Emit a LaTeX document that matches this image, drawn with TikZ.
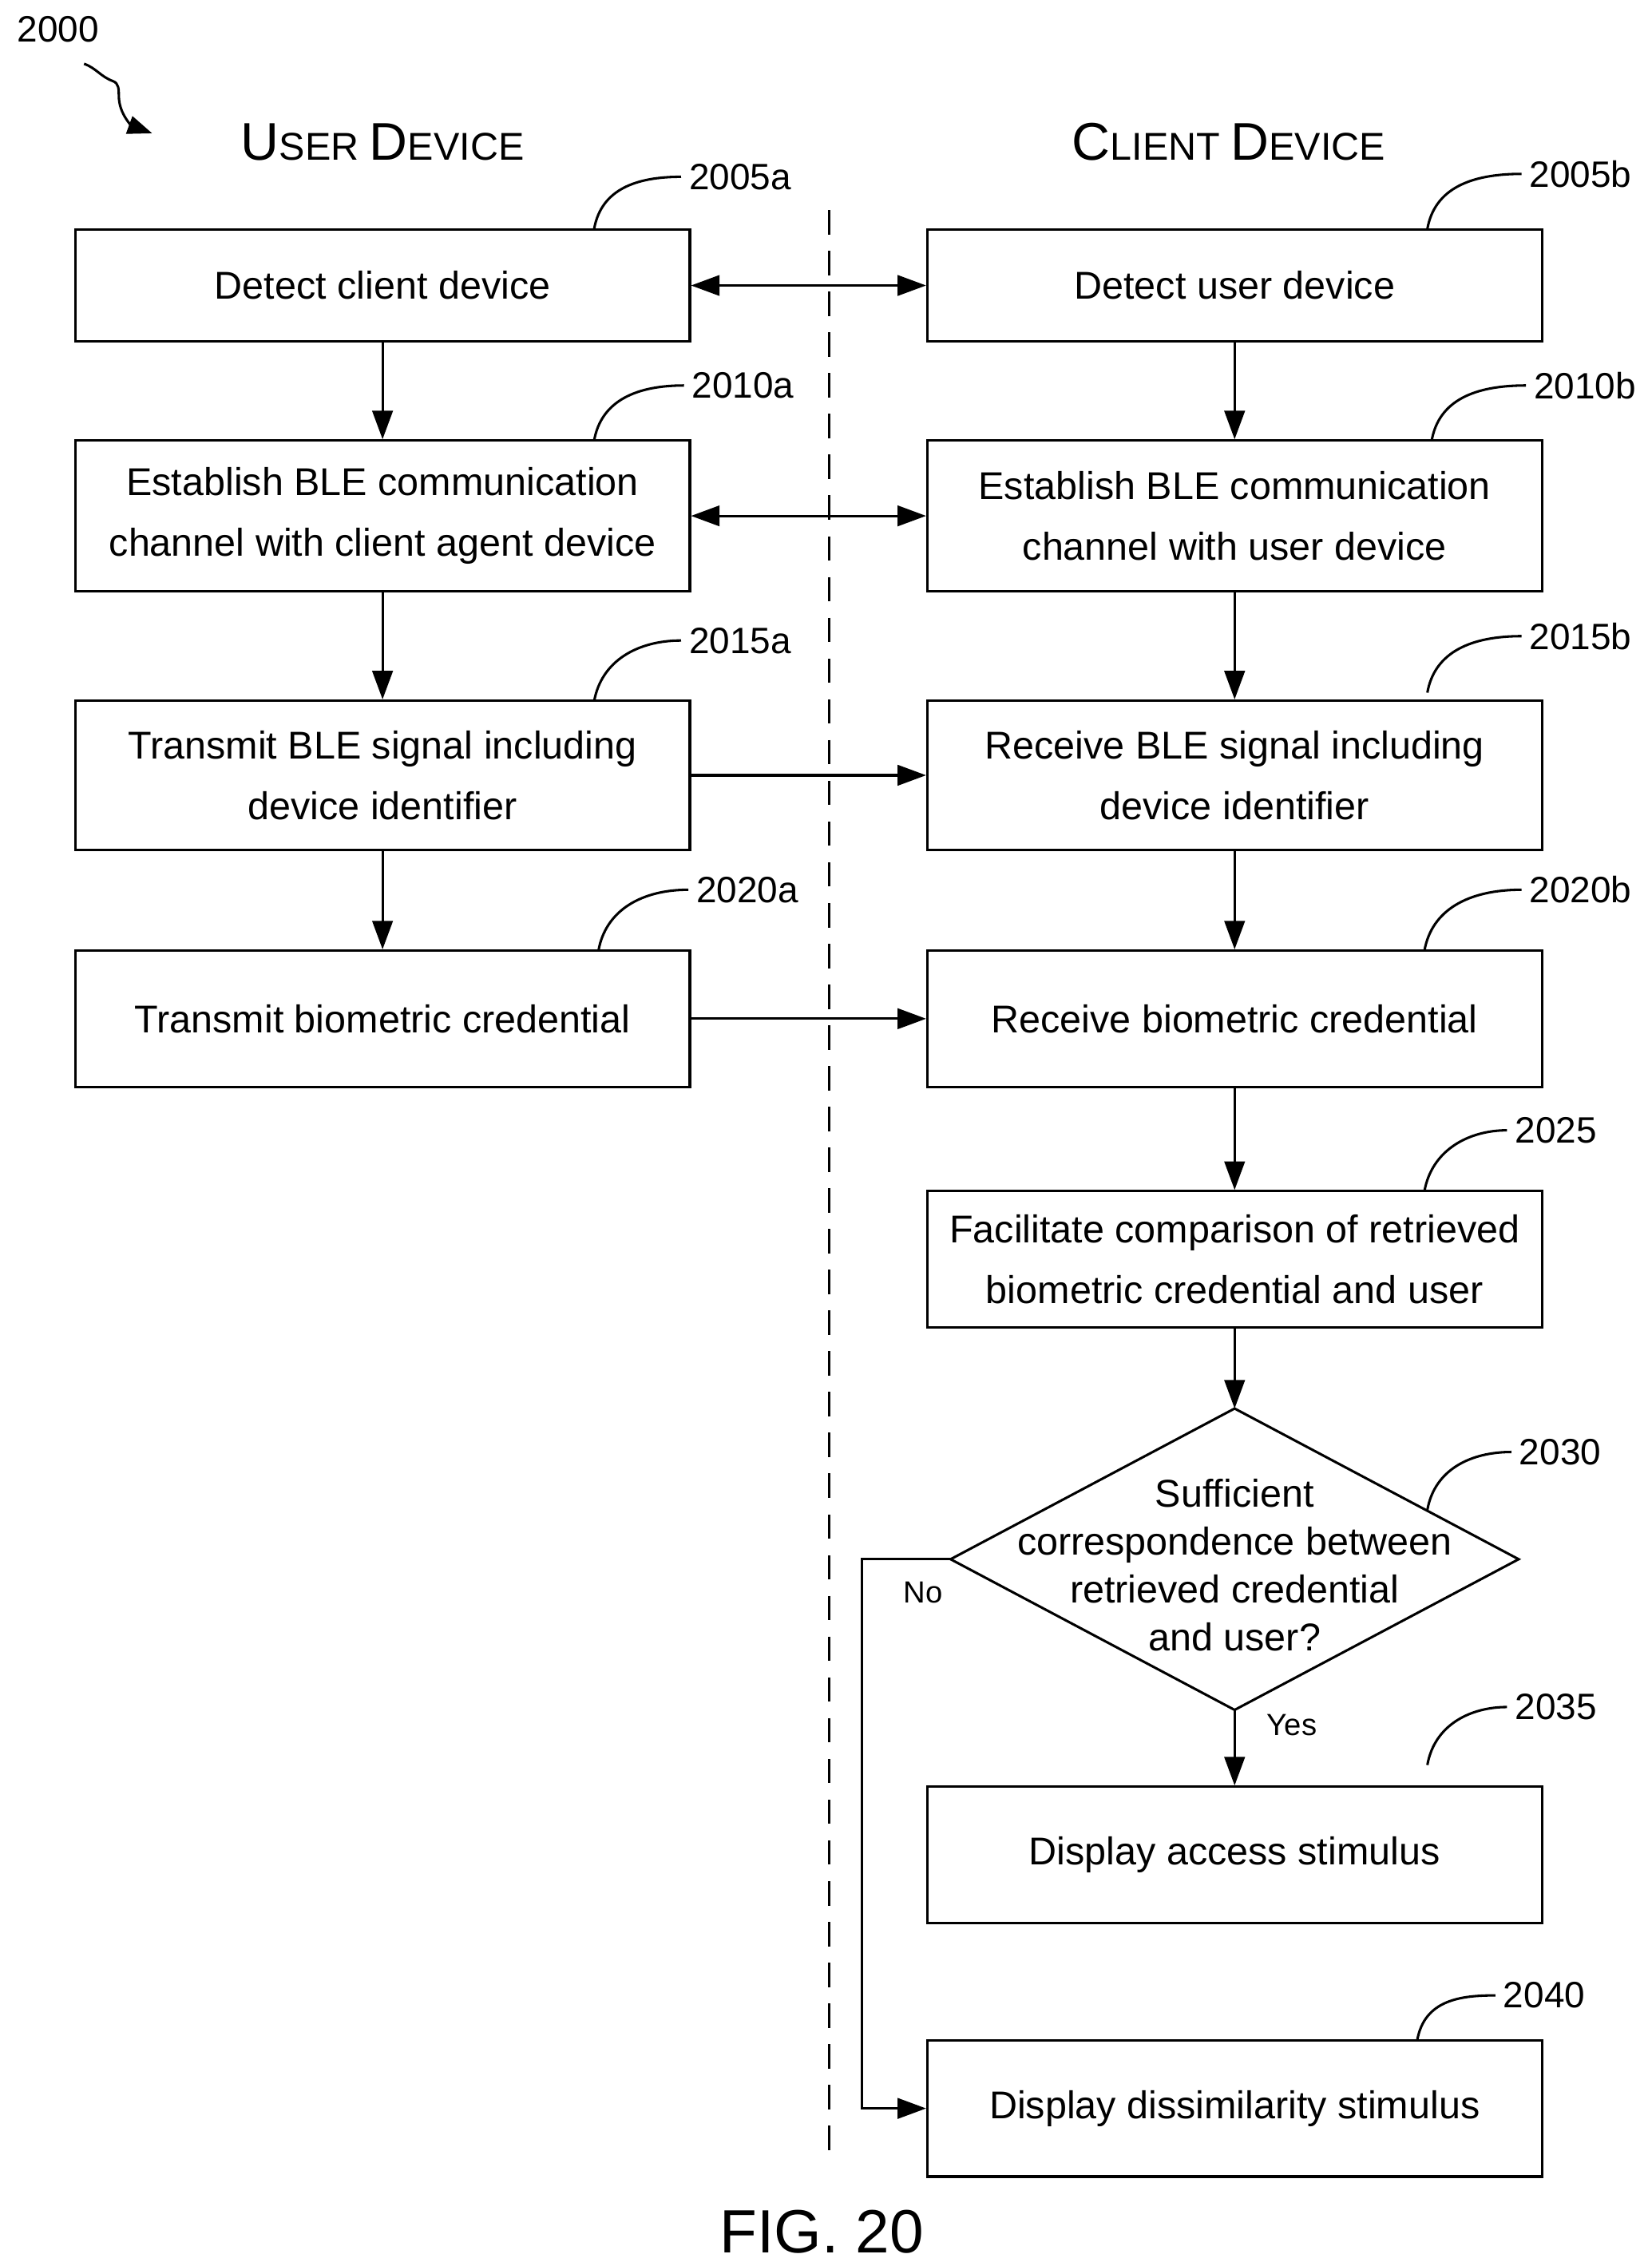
\documentclass[tikz,border=0pt]{standalone}
\usepackage{fontspec}
\setmainfont{Liberation Sans}
\usetikzlibrary{arrows.meta}
\tikzset{
  box/.style={draw, line width=1.2pt, minimum width=10.6cm, align=center, inner sep=0pt,
    font=\fontsize{19}{30}\selectfont},
  ref/.style={font=\fontsize{18}{20}\selectfont},
  flow/.style={line width=1.2pt, -{Triangle[length=14pt,width=10pt]}},
  both/.style={line width=1.2pt, {Triangle[length=14pt,width=10pt]}-{Triangle[length=14pt,width=10pt]}},
  lead/.style={line width=1.2pt}
}
\begin{document}
\begin{tikzpicture}[x=0.025cm,y=-0.025cm]
  \useasboundingbox (0,0) rectangle (1140,1561);
  % headers
  \node[font=\fontsize{18}{20}\selectfont] at (40,20) {2000};
  \draw[line width=1.2pt, -{Triangle[length=12pt,width=9pt]}] (58,44) to[out=-20,in=160] (78,56)
    to[out=-20,in=90] (82,66) to[out=-90,in=160] (105,92);
  \node at (264,98) {\fontsize{26}{26}\selectfont U\fontsize{19}{26}\selectfont SER \fontsize{26}{26}\selectfont D\fontsize{19}{26}\selectfont EVICE};
  \node at (848,98) {\fontsize{26}{26}\selectfont C\fontsize{19}{26}\selectfont LIENT \fontsize{26}{26}\selectfont D\fontsize{19}{26}\selectfont EVICE};
  \draw[line width=1.2pt, dash pattern=on 12pt off 8pt] (572,145) -- (572,1490);
  % user device
  \node[box, minimum height=1.925cm] (ua) at (264,197) {Detect client device};
  \node[box, minimum height=2.6cm] (ub) at (264,356) {Establish BLE communication\\channel with client agent device};
  \node[box, minimum height=2.575cm] (uc) at (264,535) {Transmit BLE signal including\\device identifier};
  \node[box, minimum height=2.35cm] (ud) at (264,703) {Transmit biometric credential};
  % client device
  \node[box, minimum height=1.925cm] (ca) at (852,197) {Detect user device};
  \node[box, minimum height=2.6cm] (cb) at (852,356) {Establish BLE communication\\channel with user device};
  \node[box, minimum height=2.575cm] (cc) at (852,535) {Receive BLE signal including\\device identifier};
  \node[box, minimum height=2.35cm] (cd) at (852,703) {Receive biometric credential};
  \node[box, minimum height=2.35cm] (ce) at (852,869) {Facilitate comparison of retrieved\\biometric credential and user};
  \draw[line width=1.2pt] (852,972) -- (1048,1076) -- (852,1180) -- (656,1076) -- cycle;
  \coordinate (dt) at (852,972);
  \coordinate (db) at (852,1180);
  \coordinate (dl) at (656,1076);
  \node[align=center, font=\fontsize{19}{23.5}\selectfont] (dq) at (852,1080) {Sufficient\\correspondence between\\retrieved credential\\and user?};
  \node[box, minimum height=2.35cm] (cf) at (852,1280) {Display access stimulus};
  \node[box, minimum height=2.35cm] (cg) at (852,1455) {Display dissimilarity stimulus};
  \coordinate (nc) at (595,1076);
  % connectors
  \draw[flow] (ua) -- (ub);
  \draw[flow] (ub) -- (uc);
  \draw[flow] (uc) -- (ud);
  \draw[flow] (ca) -- (cb);
  \draw[flow] (cb) -- (cc);
  \draw[flow] (cc) -- (cd);
  \draw[flow] (cd) -- (ce);
  \draw[flow] (ce) -- (dt);
  \draw[flow] (db) -- (cf) node[pos=0.2, right=12pt, font=\fontsize{15}{15}\selectfont] {Yes};
  \draw[flow] (dl) -- (nc) |- (cg);
  \node[font=\fontsize{15}{15}\selectfont] at (637,1099) {No};
  \draw[both] (ua) -- (ca);
  \draw[both] (ub) -- (cb);
  \draw[flow] (uc) -- (cc);
  \draw[flow] (ud) -- (cd);
  % reference numerals
  \draw[lead] (410,158) .. controls (415,130) and (440,122) .. (470,122) node[ref, right] {2005a};
  \draw[lead] (410,304) .. controls (415,276) and (440,266) .. (472,266) node[ref, right] {2010a};
  \draw[lead] (410,484) .. controls (415,456) and (440,442) .. (470,442) node[ref, right] {2015a};
  \draw[lead] (413,656) .. controls (418,628) and (443,614) .. (475,614) node[ref, right] {2020a};
  \draw[lead] (985,158) .. controls (990,130) and (1015,120) .. (1050,120) node[ref, right] {2005b};
  \draw[lead] (988,304) .. controls (993,276) and (1018,266) .. (1053,266) node[ref, right] {2010b};
  \draw[lead] (985,478) .. controls (990,450) and (1015,439) .. (1050,439) node[ref, right] {2015b};
  \draw[lead] (983,656) .. controls (988,628) and (1013,614) .. (1050,614) node[ref, right] {2020b};
  \draw[lead] (983,822) .. controls (988,794) and (1013,780) .. (1040,780) node[ref, right] {2025};
  \draw[lead] (985,1042) .. controls (990,1014) and (1015,1002) .. (1043,1002) node[ref, right] {2030};
  \draw[lead] (985,1218) .. controls (990,1190) and (1015,1178) .. (1040,1178) node[ref, right] {2035};
  \draw[lead] (978,1408) .. controls (983,1380) and (1008,1377) .. (1032,1377) node[ref, right] {2040};
  \node[font=\fontsize{30}{30}\selectfont] at (567,1540) {FIG. 20};
\end{tikzpicture}
\end{document}
